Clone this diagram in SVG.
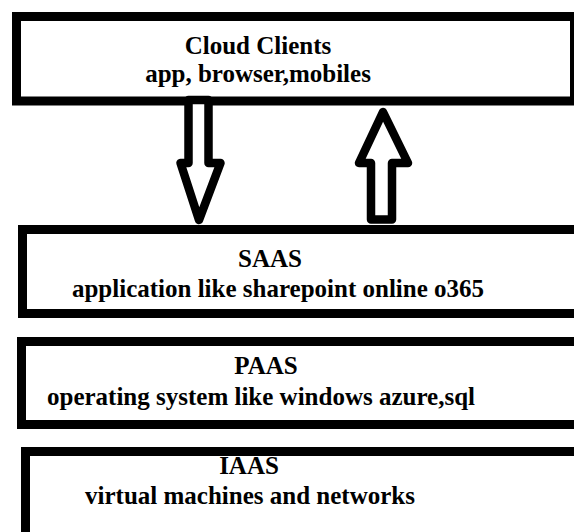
<svg xmlns="http://www.w3.org/2000/svg" width="574" height="532" viewBox="0 0 574 532">
<style>
.box{fill:#fff;stroke:#000;stroke-width:9}
.arr{fill:#fff;stroke:#000;stroke-width:8.5;stroke-linejoin:round}
.t{font-family:"Liberation Serif","Times New Roman",serif;font-weight:bold;font-size:25px;fill:#000;text-anchor:middle}
</style>
<rect width="574" height="532" fill="#fff"/>
<g id="cloud-clients">
<rect class="box" x="16.5" y="16.5" width="558" height="84.5"/>
<text class="t" x="258" y="54">Cloud Clients</text>
<text class="t" x="258" y="82">app, browser,mobiles</text>
</g>
<g id="saas">
<rect class="box" x="22.5" y="229.5" width="600" height="84"/>
<text class="t" x="270" y="267">SAAS</text>
<text class="t" x="278" y="297">application like sharepoint online o365</text>
</g>
<g id="paas">
<rect class="box" x="21.5" y="341.5" width="600" height="83"/>
<text class="t" x="266" y="374">PAAS</text>
<text class="t" x="261" y="405">operating system like windows azure,sql</text>
</g>
<g id="iaas">
<rect class="box" x="25.5" y="451.5" width="600" height="90"/>
<text class="t" x="249" y="474">IAAS</text>
<text class="t" x="250" y="504">virtual machines and networks</text>
</g>
<g id="connectors">
<polygon class="arr" points="188.5,100 208.5,100 208.5,163 220.5,163 199,220 180.5,163 188.5,163"/>
<polygon class="arr" points="371,219.5 392,219.5 392,163 408,163 383,112 359,163 371,163"/>
</g>
</svg>
